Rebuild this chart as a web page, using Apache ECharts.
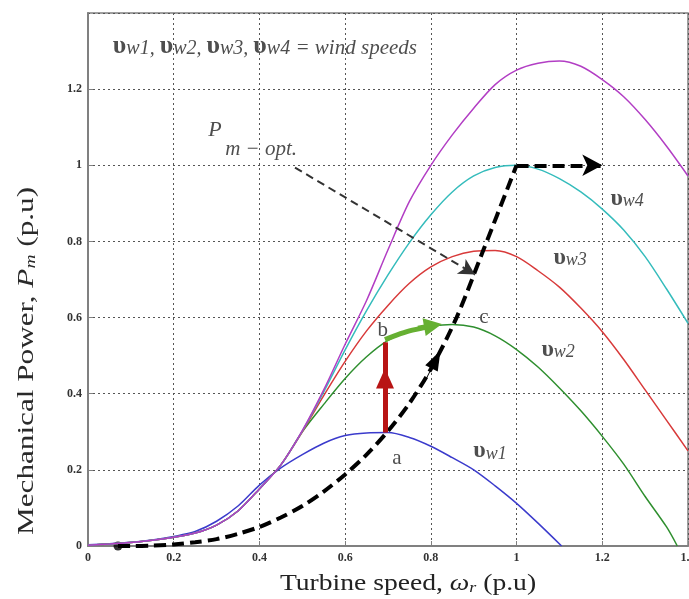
<!DOCTYPE html>
<html>
<head>
<meta charset="utf-8">
<script src="https://cdn.jsdelivr.net/npm/echarts@6/dist/echarts.min.js"></script>
<style>
html, body { margin: 0; padding: 0; background: #fff; }
#main { width: 689px; height: 599px; }
</style>
</head>
<body>
<div id="main"></div>
<script>
// turbine speed wr (p.u) and mechanical power Pm (p.u)
var wrV1 = [0, 0.05, 0.1, 0.15, 0.2, 0.25, 0.3, 0.35, 0.4, 0.45, 0.5, 0.55, 0.6, 0.65, 0.7, 0.75, 0.8, 0.85, 0.9, 0.95, 1, 1.05, 1.105];
var pmV1 = [0.003, 0.006, 0.01, 0.016, 0.025, 0.038, 0.065, 0.105, 0.16, 0.205, 0.24, 0.27, 0.29, 0.297, 0.298, 0.285, 0.262, 0.232, 0.2, 0.158, 0.112, 0.06, 0];

var wrV2 = [0, 0.05, 0.1, 0.15, 0.2, 0.25, 0.3, 0.35, 0.4, 0.45, 0.5, 0.55, 0.6, 0.65, 0.7, 0.75, 0.8, 0.85, 0.9, 0.95, 1, 1.05, 1.1, 1.15, 1.2, 1.25, 1.3, 1.35, 1.375];
var pmV2 = [0.002, 0.005, 0.009, 0.015, 0.023, 0.034, 0.055, 0.092, 0.15, 0.213, 0.3, 0.372, 0.44, 0.497, 0.54, 0.565, 0.577, 0.582, 0.575, 0.552, 0.516, 0.47, 0.415, 0.355, 0.288, 0.215, 0.13, 0.05, 0];

var wrFull = [0, 0.05, 0.1, 0.15, 0.2, 0.25, 0.3, 0.35, 0.4, 0.45, 0.5, 0.55, 0.6, 0.65, 0.7, 0.75, 0.8, 0.85, 0.9, 0.95, 1, 1.05, 1.1, 1.15, 1.2, 1.25, 1.3, 1.35, 1.4];
var pmV3 = [0.002, 0.005, 0.009, 0.015, 0.023, 0.034, 0.055, 0.092, 0.15, 0.213, 0.3, 0.395, 0.485, 0.565, 0.632, 0.69, 0.733, 0.76, 0.774, 0.776, 0.76, 0.723, 0.68, 0.625, 0.563, 0.49, 0.41, 0.33, 0.25];
var pmV4 = [0.002, 0.005, 0.009, 0.015, 0.023, 0.034, 0.055, 0.092, 0.15, 0.213, 0.302, 0.405, 0.515, 0.618, 0.712, 0.797, 0.87, 0.93, 0.972, 0.994, 1, 0.99, 0.965, 0.93, 0.885, 0.83, 0.76, 0.675, 0.585];
var pmV5 = [0.002, 0.005, 0.009, 0.015, 0.023, 0.034, 0.055, 0.092, 0.15, 0.213, 0.303, 0.41, 0.53, 0.645, 0.778, 0.905, 1, 1.08, 1.15, 1.212, 1.25, 1.268, 1.274, 1.26, 1.225, 1.18, 1.12, 1.05, 0.972];

// optimum power track
var wrOpt = [0.07, 0.1, 0.15, 0.2, 0.25, 0.3, 0.35, 0.4, 0.45, 0.5, 0.55, 0.6, 0.65, 0.7, 0.75, 0.8, 0.86, 0.92, 1];
var pmOpt = [0, 0, 0.001, 0.004, 0.01, 0.018, 0.032, 0.05, 0.075, 0.105, 0.143, 0.188, 0.24, 0.302, 0.375, 0.465, 0.6, 0.77, 1];

// arrows [start, end]
var optLimit = [[1, 1], [1.2, 1]];
var optHead = [[0.785, 0.43], [0.812, 0.49]];
var pointerArrow = [[0.483, 0.994], [0.903, 0.713]];
var stepAB = [[0.693, 0.298], [0.693, 0.535]];
var headAB = [[0.693, 0.38], [0.693, 0.44]];
var stepBC = [[0.693, 0.542], [0.72, 0.554], [0.75, 0.565], [0.79, 0.575]];
var headBC = [[0.77, 0.572], [0.805, 0.579]];

// text annotations
var noteText = ['a', 'b', 'c', '{u|υ}{s|w1}', '{u|υ}{s|w2}', '{u|υ}{s|w3}', '{u|υ}{s|w4}', '{p|P}', '{q|m − opt.}'];
var notePos = [[0.721, 0.229], [0.688, 0.566], [0.924, 0.6], [0.938, 0.25], [1.097, 0.516], [1.125, 0.758], [1.258, 0.913], [0.296, 1.092], [0.404, 1.042]];
var titleText = '{u|υ}{s|w1, }{u|υ}{s|w2, }{u|υ}{s|w3, }{u|υ}{s|w4}{e| = wind speeds}';
var titlePos = [0.058, 1.313];

var serif = 'Liberation Serif';
var textRich = {
    u: { fontFamily: serif, fontSize: 24, fontWeight: 'bold', color: '#222', lineHeight: 24 },
    s: { fontFamily: serif, fontSize: 18, fontStyle: 'italic', color: '#222', lineHeight: 18, verticalAlign: 'bottom' },
    t: { fontFamily: serif, fontSize: 26, fontWeight: 'bold', color: '#222', lineHeight: 26 },
    w: { fontFamily: serif, fontSize: 20, fontStyle: 'italic', color: '#222', lineHeight: 20, verticalAlign: 'bottom' },
    e: { fontFamily: serif, fontSize: 21, fontStyle: 'italic', color: '#222', lineHeight: 21, verticalAlign: 'bottom' },
    p: { fontFamily: serif, fontSize: 22, fontStyle: 'italic', color: '#222' },
    q: { fontFamily: serif, fontSize: 21, fontStyle: 'italic', color: '#222' }
};
titleText = titleText.replace(/\{u\|/g, '{t|').replace(/\{s\|/g, '{w|');

function zip(xs, ys) {
    var out = [];
    for (var i = 0; i < xs.length; i++) out.push([xs[i], ys[i]]);
    return out;
}

function curve(name, xs, ys, color) {
    return {
        name: name, type: 'line', data: zip(xs, ys), smooth: 0.3,
        symbol: 'none', silent: true,
        lineStyle: { color: color, width: 1.5 }
    };
}

function arrow(pts, color, width, type, size, symbol) {
    return {
        type: 'line', data: [], silent: true,
        markLine: {
            silent: true, animation: false,
            symbol: ['none', symbol || 'arrow'],
            symbolSize: size,
            label: { show: false },
            lineStyle: { color: color, width: width, type: type },
            emphasis: { disabled: true },
            data: [[{ coord: pts[0] }, { coord: pts[1] }]]
        }
    };
}

var chartDom = document.getElementById('main');
var myChart = echarts.init(chartDom);

var option = {
    animation: false,
    grid: {
        left: 88, right: 1, top: 13, bottom: 53,
        outerBoundsMode: 'none', containLabel: false,
        show: true, borderColor: '#808080', borderWidth: 1.5
    },
    xAxis: {
        type: 'value', min: 0, max: 1.4, interval: 0.2,
        axisLine: { lineStyle: { color: '#808080', width: 2 } },
        axisTick: { inside: true, length: 5, lineStyle: { color: '#808080' } },
        axisLabel: { fontFamily: serif, fontWeight: 'bold', fontSize: 12, color: '#333', margin: 6 },
        splitLine: { lineStyle: { color: '#555', type: [2, 3], width: 1 } }
    },
    yAxis: {
        type: 'value', min: 0, max: 1.4, interval: 0.2,
        axisLine: { show: true, lineStyle: { color: '#808080', width: 2 } },
        axisTick: { show: true, inside: true, length: 5, lineStyle: { color: '#808080' } },
        axisLabel: { fontFamily: serif, fontWeight: 'bold', fontSize: 12, color: '#333', margin: 6, showMaxLabel: false },
        splitLine: { lineStyle: { color: '#555', type: [2, 3], width: 1 } }
    },
    graphic: [
        {
            type: 'text', x: 408, y: 584, scaleX: 1.2,
            style: {
                text: 'Turbine speed, {i|ω}{r|r} (p.u)',
                fontFamily: serif, fontSize: 23, fill: '#222',
                align: 'center', verticalAlign: 'middle',
                rich: {
                    i: { fontFamily: serif, fontSize: 23, fontStyle: 'italic', fill: '#222' },
                    r: { fontFamily: serif, fontSize: 15, fontStyle: 'italic', fill: '#222', verticalAlign: 'bottom', lineHeight: 15 }
                }
            }
        },
        {
            type: 'text', x: 27, y: 361, rotation: Math.PI / 2, scaleX: 1.3,
            style: {
                text: 'Mechanical Power, {i|P}{m|m} (p.u)',
                fontFamily: serif, fontSize: 24, fill: '#2a2a2a',
                align: 'center', verticalAlign: 'middle',
                rich: {
                    i: { fontFamily: serif, fontSize: 24, fontStyle: 'italic', fill: '#2a2a2a' },
                    m: { fontFamily: serif, fontSize: 15, fontStyle: 'italic', fill: '#2a2a2a', verticalAlign: 'bottom', lineHeight: 15 }
                }
            }
        }
    ],
    series: [
        curve('vw1', wrV1, pmV1, '#3b3bcc'),
        curve('vw2', wrV2, pmV2, '#2f8f2f'),
        curve('vw3', wrFull, pmV3, '#d83a3a'),
        curve('vw4', wrFull, pmV4, '#35bcbc'),
        curve('vw5', wrFull, pmV5, '#b23ec4'),
        {
            name: 'stepBC', type: 'line', data: stepBC, smooth: 0.3, symbol: 'none', silent: true,
            lineStyle: { color: '#66b032', width: 5 }
        },
        arrow(headBC, '#66b032', 5, 'solid', [18, 18], 'triangle'),
        arrow(stepAB, '#b81414', 5, 'solid', 0, 'none'),
        arrow(headAB, '#b81414', 1, 'solid', [18, 20], 'triangle'),
        {
            name: 'Pm-opt', type: 'line', data: zip(wrOpt, pmOpt), smooth: 0.3, symbol: 'none', silent: true,
            lineStyle: { color: '#000', width: 4, type: [12, 6] }
        },
        {
            type: 'scatter', data: [[wrOpt[0], pmOpt[0]]], symbolSize: 9, silent: true,
            itemStyle: { color: '#000' }
        },
        arrow(optLimit, '#000', 4, [12, 6], [16, 20], 'arrow'),
        arrow(optHead, '#000', 1, 'solid', [14, 20], 'triangle'),
        arrow(pointerArrow, '#333', 2, [8, 5], [13, 16], 'arrow'),
        {
            type: 'scatter', silent: true, symbolSize: 0,
            data: notePos.map(function (p, i) { return { value: p, text: noteText[i] }; }),
            label: {
                show: true, position: 'inside',
                fontFamily: serif, fontSize: 21, color: '#222',
                formatter: function (p) { return p.data.text; },
                rich: textRich
            }
        },
        {
            type: 'scatter', silent: true, symbolSize: 0,
            data: [{ value: titlePos, text: titleText }],
            label: {
                show: true, position: 'right', distance: 0,
                formatter: function (p) { return p.data.text; },
                rich: textRich
            }
        }
    ]
};

option && myChart.setOption(option);
</script>
</body>
</html>
